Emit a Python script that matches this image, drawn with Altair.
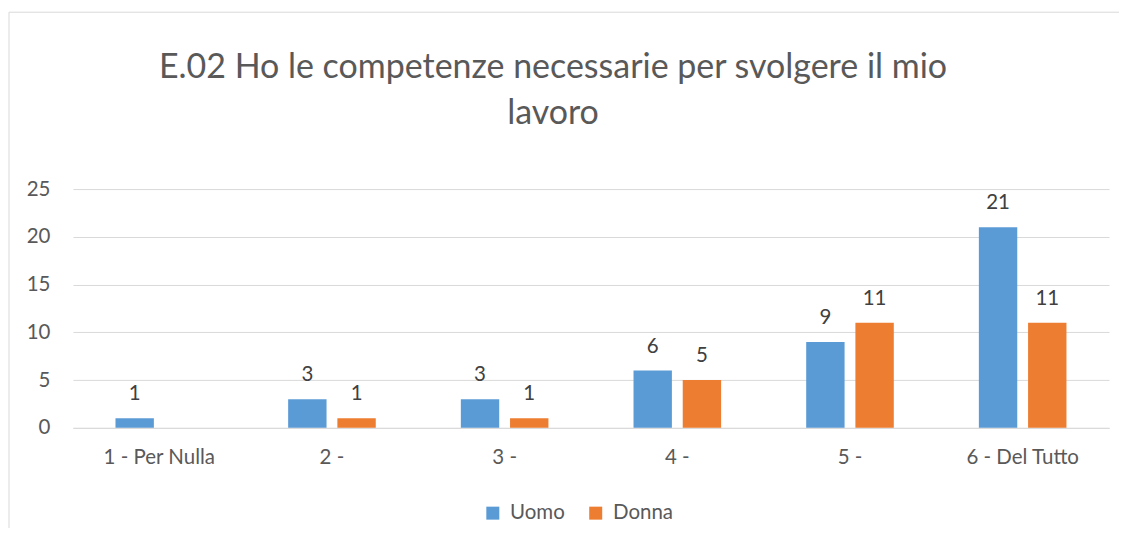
import altair as alt
import pandas as pd

categories = ["1 - Per Nulla", "2 -", "3 -", "4 -", "5 -", "6 - Del Tutto"]
series = ["Uomo", "Donna"]
uomo = [1, 3, 3, 6, 9, 21]
donna = [None, 1, 1, 5, 11, 11]
colors = ["#5B9BD5", "#ED7D31"]
title_lines = ["E.02 Ho le competenze necessarie per svolgere il mio", "lavoro"]

rows = []
for c, u, d in zip(categories, uomo, donna):
    rows.append({"cat": c, "serie": "Uomo", "val": u})
    rows.append({"cat": c, "serie": "Donna", "val": d})
df = pd.DataFrame(rows)

FONT = "Lato"
FS = 20.5

x = alt.X("cat:N", sort=categories, title=None,
          scale=alt.Scale(paddingInner=0.43, paddingOuter=0.215),
          axis=alt.Axis(labelAngle=0, labelFontSize=FS, labelColor="#595959", labelFont=FONT,
                        ticks=False, domain=True, domainColor="#d9d9d9", labelPadding=20))
xo = alt.XOffset("serie:N", sort=series,
                 scale=alt.Scale(paddingInner=0.22, paddingOuter=0.11))
y = alt.Y("val:Q", title=None,
          scale=alt.Scale(domain=[0, 25], nice=False),
          axis=alt.Axis(values=[0, 5, 10, 15, 20, 25], labelFontSize=FS, labelColor="#595959",
                        labelFont=FONT, ticks=False, domain=False, gridColor="#d9d9d9",
                        labelPadding=23))
color = alt.Color("serie:N", sort=series, title=None,
                  scale=alt.Scale(domain=series, range=colors),
                  legend=alt.Legend(orient="none", legendX=410, legendY=314, direction="horizontal",
                                    columns=2, columnPadding=20, symbolType="square",
                                    symbolSize=169, symbolStrokeWidth=0, labelFontSize=FS,
                                    labelColor="#595959", labelFont=FONT, labelOffset=7))

border = alt.Chart(pd.DataFrame({"a": [0]})).mark_rect(
    fill=None, stroke="#d9d9d9", strokeWidth=1, clip=False
).encode(x=alt.value(-64), x2=alt.value(1300), y=alt.value(-177), y2=alt.value(700))

bars = alt.Chart(df).mark_bar().encode(x=x, xOffset=xo, y=y, color=color)

labels = alt.Chart(df).transform_filter("datum.val != null").mark_text(
    baseline="alphabetic", dy=-18, fontSize=FS, color="#404040", font=FONT
).encode(x=alt.X("cat:N", sort=categories), xOffset=xo, y="val:Q", text="val:Q")

chart = alt.layer(border, bars, labels).properties(
    width=1037, height=239,
    title=alt.TitleParams(text=title_lines, fontSize=34, font=FONT, fontWeight="normal",
                          color="#595959", anchor="middle", dx=-38, offset=-119, lineHeight=46),
    padding={"left": 65, "top": 181, "right": 10, "bottom": 100},
    autosize=alt.AutoSizeParams(type="none"),
).configure(background="white").configure_view(stroke=None)

chart.save("out.html", embed_options={"renderer": "svg", "actions": False})
